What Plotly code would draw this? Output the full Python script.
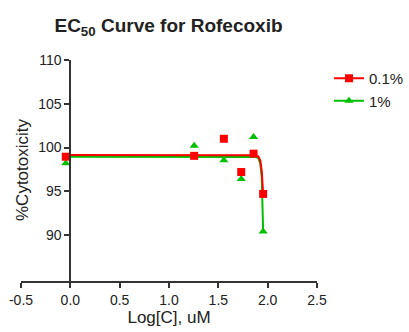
import plotly.graph_objects as go

# Data
log_conc = [-0.046, 1.255, 1.556, 1.732, 1.857, 1.954]
red_vals = [98.95, 99.05, 101.0, 97.2, 99.3, 94.7]      # 0.1%
green_vals = [98.2, 100.2, 98.55, 96.4, 101.2, 90.4]    # 1%

# Fitted curves
red_fit_x = [-0.046, 1.88, 1.905, 1.925, 1.94, 1.954]
red_fit_y = [99.15, 99.13, 99.0, 98.5, 97.3, 94.7]
green_fit_x = [-0.046, 1.88, 1.905, 1.925, 1.94, 1.954]
green_fit_y = [98.95, 98.93, 98.8, 98.2, 96.6, 90.4]

x_ticks = [-0.5, 0.0, 0.5, 1.0, 1.5, 2.0, 2.5]
y_ticks = [90, 95, 100, 105, 110]

RED = "#FF0000"
GREEN = "#00C000"
AX = "#333333"
FONT = "Liberation Sans, Arial, sans-serif"
W, H = 409, 332

fig = go.Figure()
fig.add_trace(go.Scatter(x=green_fit_x, y=green_fit_y, mode="lines",
                         line=dict(color=GREEN, width=2),
                         showlegend=False, hoverinfo="skip"))
fig.add_trace(go.Scatter(x=red_fit_x, y=red_fit_y, mode="lines",
                         line=dict(color=RED, width=2),
                         showlegend=False, hoverinfo="skip"))
fig.add_trace(go.Scatter(x=log_conc, y=green_vals, mode="markers",
                         marker=dict(symbol="triangle-up", size=8, color=GREEN),
                         showlegend=False))
fig.add_trace(go.Scatter(x=log_conc, y=red_vals, mode="markers",
                         marker=dict(symbol="square", size=8, color=RED),
                         showlegend=False))
# legend entries
fig.add_trace(go.Scatter(x=[None], y=[None], mode="lines+markers", name="0.1%",
                         line=dict(color=RED, width=2),
                         marker=dict(symbol="square", size=8, color=RED)))
fig.add_trace(go.Scatter(x=[None], y=[None], mode="lines+markers", name="1%",
                         line=dict(color=GREEN, width=2),
                         marker=dict(symbol="triangle-up", size=8, color=GREEN)))

fig.update_layout(
    width=W, height=H,
    margin=dict(l=0, r=0, t=0, b=0),
    paper_bgcolor="white", plot_bgcolor="white",
    font=dict(family=FONT, color="#222222", size=14),
    title=dict(text="<b>EC<sub>50</sub> Curve for Rofecoxib</b>",
               x=(168.5 / W), xanchor="center", y=1 - 25 / H, yanchor="middle",
               font=dict(size=19, color="#222222")),
    xaxis=dict(range=[-0.5, 2.5], tickvals=x_ticks, domain=[21 / W, 317 / W],
               ticktext=[f"{v:.1f}" for v in x_ticks],
               showgrid=False, zeroline=False, showline=True, linecolor=AX, linewidth=2,
               ticks="outside", ticklen=5, tickwidth=2, tickcolor=AX,
               tickfont=dict(size=14), automargin=False,
               title=dict(text="Log[C], uM", font=dict(size=17), standoff=4)),
    yaxis=dict(range=[84.75, 110], tickvals=y_ticks, domain=[(H - 281) / H, (H - 60) / H],
               showgrid=False, zeroline=False, showline=True, linecolor=AX, linewidth=2,
               ticks="outside", ticklen=5, tickwidth=2, tickcolor=AX,
               tickfont=dict(size=14), automargin=False,
               anchor="free", position=(21 + 296 / 6) / W),
    legend=dict(x=329 / W, y=1 - 62 / H, xanchor="left", yanchor="top",
                font=dict(size=15), bgcolor="rgba(0,0,0,0)", itemwidth=30,
                tracegroupgap=0),
    annotations=[dict(text="%Cytotoxicity", textangle=-90,
                      x=22 / W, y=1 - 170 / H,
                      xref="paper", yref="paper", showarrow=False,
                      xanchor="center", yanchor="middle",
                      font=dict(size=17))],
)

fig.write_html("out.html")
